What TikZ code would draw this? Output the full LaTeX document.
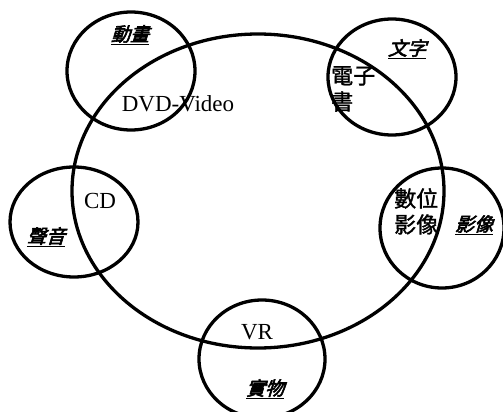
\documentclass[tikz,border=0pt]{standalone}
\usepackage{fontspec}
\setmainfont{Liberation Serif}
\newfontfamily\cjk[FakeBold=1.5]{Noto Sans CJK TC}
\newfontfamily\cjkit[FakeSlant=0.3,FakeBold=3]{Noto Sans CJK TC}
\begin{document}
\begin{tikzpicture}[x=1pt,y=-1pt,
  ring/.style={draw=black,line width=3.3pt},
  lat/.style={inner sep=0pt,font=\fontsize{23}{25}\selectfont},
  han/.style={inner sep=0pt,align=left,font=\cjk\fontsize{22}{26}\selectfont},
  tag/.style={inner sep=0pt,font=\cjkit\fontsize{19}{22}\selectfont}]
\useasboundingbox (0,0) rectangle (503,412);
\draw[ring] (258,191) ellipse [x radius=186,y radius=157];
\draw[ring] (131,71) ellipse [x radius=64,y radius=59];
\draw[ring] (392,77) ellipse [x radius=64,y radius=58];
\draw[ring] (442,228) ellipse [x radius=62,y radius=60];
\draw[ring] (74,222) ellipse [x radius=64,y radius=55];
\draw[ring] (262,359) ellipse [x radius=63,y radius=59];
\node[tag] (anim) at (130,35) {\underline{動畫}};
\node[tag] (text) at (407,49) {\underline{文字}};
\node[tag] (image) at (474,225) {\underline{影像}};
\node[tag] (sound) at (46,237) {\underline{聲音}};
\node[tag] (object) at (265,389) {\underline{實物}};
\node[lat] (dvd) at (178,104) {DVD-Video};
\node[lat] (cd) at (100,201) {CD};
\node[lat] (vr) at (257,332) {VR};
\node[han,anchor=north west] (ebook) at (331,66) {電子\\書};
\node[han,anchor=north west] (digital) at (394,188) {數位\\影像};
\end{tikzpicture}
\end{document}
